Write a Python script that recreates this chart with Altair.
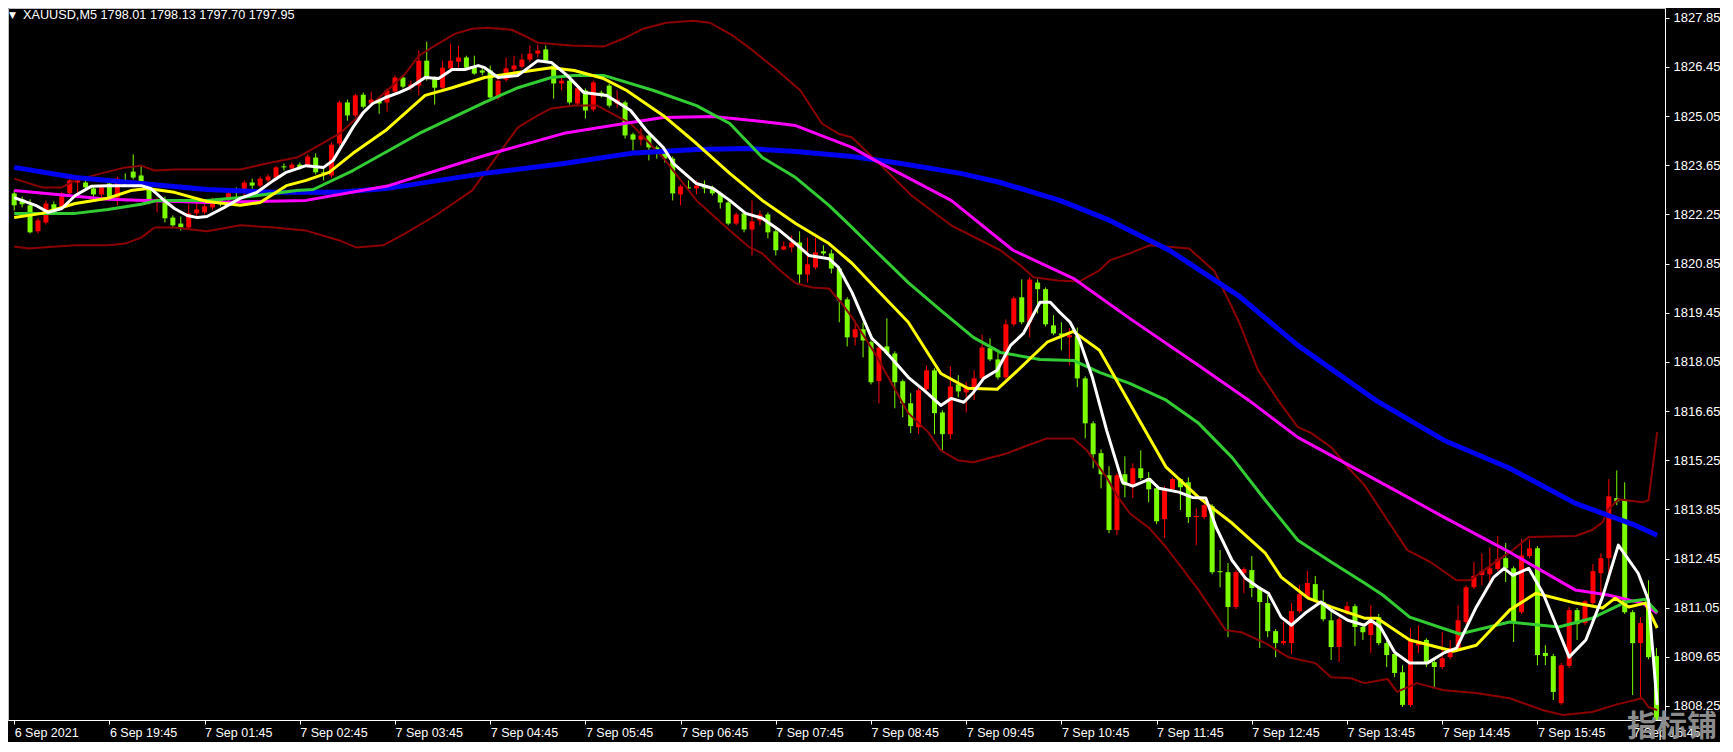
import altair as alt
import pandas as pd

# ---------------- candle data ----------------
open_ = [1822.85,1822.68,1822.51,1821.77,1822.02,1822.54,1822.48,1822.85,1823.16,1823.16,
1822.99,1822.82,1823.13,1822.73,1823.22,1823.47,1823.36,1822.99,1822.62,1822.68,
1822.16,1821.99,1821.88,1822.28,1822.31,1822.45,1822.65,1822.68,1822.93,1822.96,
1823.16,1823.07,1823.22,1823.30,1823.62,1823.56,1823.67,1823.64,1823.87,1823.45,
1823.36,1824.27,1825.44,1825.07,1825.66,1825.41,1825.52,1825.44,1825.75,1826.15,
1825.86,1825.92,1826.63,1826.12,1825.86,1826.41,1826.60,1826.72,1826.43,1826.35,
1826.35,1825.58,1826.09,1826.38,1826.46,1826.66,1826.83,1826.95,1826.49,1825.98,
1826.06,1825.41,1825.78,1825.24,1825.72,1825.92,1825.41,1825.44,1824.53,1824.38,
1824.50,1824.16,1824.07,1823.84,1822.82,1823.02,1822.99,1823.02,1822.99,1822.85,
1822.59,1821.99,1822.28,1821.82,1822.08,1822.25,1821.77,1821.25,1821.31,1821.45,
1820.54,1820.74,1821.20,1821.14,1820.71,1819.83,1818.75,1818.98,1818.61,1817.50,
1818.49,1818.29,1817.50,1816.87,1816.19,1817.27,1817.81,1816.61,1815.99,1817.41,
1817.18,1817.33,1817.58,1818.44,1818.12,1817.61,1819.12,1819.89,1819.18,1820.31,
1820.12,1819.09,1818.86,1818.75,1818.78,1817.58,1816.30,1815.45,1814.82,1813.26,
1814.85,1814.54,1815.02,1814.74,1814.45,1813.57,1814.42,1814.71,1814.62,1813.63,
1813.63,1813.94,1812.09,1812.06,1811.07,1812.03,1812.12,1811.61,1811.18,1810.38,
1810.04,1810.04,1810.95,1811.35,1811.72,1811.21,1810.69,1809.93,1810.89,1811.09,
1810.50,1810.27,1810.78,1810.04,1809.73,1809.21,1808.28,1809.98,1810.13,1809.50,
1809.36,1809.64,1809.90,1810.64,1811.63,1811.98,1812.00,1812.15,1812.46,1812.17,
1810.92,1812.52,1812.74,1809.76,1809.67,1808.33,1809.39,1810.98,1810.61,1811.18,
1812.03,1812.46,1814.17,1814.11,1810.92,1810.04,1811.04,1809.67]

high = [1822.93,1822.76,1822.68,1822.14,1822.65,1822.62,1822.90,1823.27,1823.27,1823.30,
1823.05,1823.10,1823.19,1823.33,1823.42,1823.96,1823.62,1823.05,1822.73,1822.76,
1822.22,1822.19,1822.54,1822.59,1822.54,1822.73,1822.71,1822.90,1823.02,1823.22,
1823.27,1823.33,1823.39,1823.64,1823.70,1823.73,1823.73,1823.96,1823.99,1823.56,
1824.30,1825.49,1825.52,1825.69,1825.72,1825.75,1825.55,1825.84,1826.21,1826.21,
1826.06,1826.92,1827.17,1826.18,1826.63,1827.12,1827.06,1826.77,1826.77,1826.46,
1826.49,1826.12,1826.72,1826.77,1826.83,1827.06,1827.09,1827.06,1826.55,1826.15,
1826.12,1825.89,1825.84,1826.06,1825.78,1825.98,1825.78,1825.49,1824.58,1824.70,
1824.56,1824.21,1824.13,1823.90,1823.10,1823.22,1823.22,1823.22,1823.07,1822.90,
1822.65,1822.31,1822.34,1822.65,1822.36,1822.31,1821.82,1821.48,1821.65,1821.77,
1821.59,1821.59,1821.37,1821.25,1820.77,1819.89,1819.23,1819.18,1818.66,1818.52,
1819.29,1818.35,1817.55,1817.16,1817.30,1817.95,1817.87,1816.67,1817.92,1817.67,
1817.47,1817.81,1818.83,1818.72,1818.32,1819.26,1819.92,1820.40,1820.46,1820.40,
1820.17,1819.38,1819.18,1819.01,1819.03,1817.64,1816.36,1815.56,1815.08,1814.88,
1815.36,1815.16,1815.53,1814.91,1814.51,1814.51,1814.76,1814.74,1814.76,1813.88,
1814.02,1814.00,1812.69,1812.32,1812.12,1812.20,1812.52,1811.66,1811.41,1810.44,
1810.64,1811.18,1811.69,1812.09,1811.95,1811.55,1810.98,1810.78,1811.21,1811.15,
1810.55,1811.12,1810.87,1810.10,1809.78,1809.41,1810.47,1810.55,1810.18,1809.56,
1810.35,1810.13,1811.12,1811.69,1812.35,1812.60,1812.77,1813.09,1812.89,1812.23,
1813.00,1813.00,1812.80,1809.98,1809.73,1809.47,1811.07,1811.04,1811.26,1812.29,
1812.60,1814.71,1814.96,1814.62,1810.98,1810.78,1811.83,1809.90]

low = [1822.36,1822.45,1821.71,1821.71,1821.96,1822.28,1822.42,1822.79,1822.85,1822.96,
1822.76,1822.73,1822.68,1822.51,1823.05,1823.25,1823.10,1822.54,1822.31,1822.02,
1821.88,1821.79,1821.82,1822.14,1822.25,1822.39,1822.48,1822.62,1822.59,1822.79,
1822.88,1823.02,1823.16,1823.25,1823.50,1823.50,1823.53,1823.59,1823.39,1823.22,
1823.30,1824.21,1824.92,1825.01,1825.27,1825.35,1825.12,1825.18,1825.69,1825.84,
1825.78,1825.64,1826.06,1825.38,1825.81,1826.35,1826.41,1826.38,1826.23,1826.21,
1825.52,1825.52,1826.03,1826.29,1826.41,1826.60,1826.72,1826.58,1825.55,1825.78,
1825.38,1825.35,1824.98,1825.18,1825.58,1825.29,1825.29,1824.41,1824.07,1824.21,
1823.79,1823.84,1823.73,1822.65,1822.51,1822.93,1822.82,1822.85,1822.79,1822.42,
1821.94,1821.94,1821.74,1821.08,1821.94,1821.57,1821.08,1821.23,1821.17,1820.29,
1820.31,1820.68,1821.08,1820.57,1819.18,1818.49,1818.52,1818.18,1817.41,1816.87,
1818.24,1816.73,1816.47,1816.02,1815.99,1817.21,1815.99,1815.53,1815.85,1817.04,
1816.61,1816.96,1817.53,1818.07,1817.55,1817.55,1819.06,1819.12,1818.75,1819.43,
1819.06,1818.81,1818.38,1817.95,1817.33,1815.87,1815.02,1814.45,1813.17,1813.11,
1814.19,1814.17,1814.68,1814.05,1813.43,1813.03,1814.37,1813.83,1813.46,1812.83,
1813.57,1812.00,1811.63,1810.21,1811.01,1811.46,1811.35,1809.90,1810.21,1809.64,
1809.98,1809.73,1810.89,1811.29,1811.21,1810.66,1809.56,1809.50,1810.84,1809.96,
1810.13,1809.76,1809.98,1809.36,1809.07,1808.22,1808.22,1809.76,1809.36,1808.76,
1809.30,1809.58,1809.84,1810.58,1811.58,1811.69,1811.63,1812.09,1811.78,1810.07,
1810.87,1812.46,1809.41,1809.41,1808.42,1808.28,1809.33,1810.13,1810.55,1811.12,
1811.35,1811.78,1813.97,1810.87,1808.56,1808.50,1809.58,1807.79]

close = [1822.51,1822.54,1821.74,1822.08,1822.56,1822.34,1822.85,1823.22,1823.22,1823.02,
1822.82,1823.02,1822.73,1823.27,1823.10,1823.30,1823.16,1822.59,1822.68,1822.14,
1821.94,1821.88,1822.28,1822.39,1822.48,1822.56,1822.54,1822.85,1822.88,1823.16,
1823.07,1823.27,1823.33,1823.59,1823.59,1823.67,1823.59,1823.90,1823.45,1823.42,
1824.24,1825.44,1825.07,1825.64,1825.32,1825.52,1825.41,1825.78,1826.15,1825.89,
1825.95,1826.63,1826.12,1825.86,1826.43,1826.63,1826.72,1826.43,1826.26,1826.29,
1825.58,1826.06,1826.41,1826.49,1826.66,1826.83,1826.92,1826.63,1825.98,1826.06,
1825.44,1825.84,1825.21,1826.01,1825.64,1825.35,1825.52,1824.50,1824.38,1824.50,
1824.16,1824.07,1823.84,1822.85,1823.05,1822.99,1823.07,1822.99,1822.85,1822.59,
1821.99,1822.25,1821.82,1822.05,1822.25,1821.74,1821.23,1821.34,1821.45,1820.54,
1820.83,1821.17,1821.14,1820.71,1819.80,1818.75,1818.98,1818.66,1817.47,1818.46,
1818.29,1817.47,1816.87,1816.22,1817.24,1817.81,1816.59,1815.99,1817.35,1817.21,
1817.35,1817.58,1818.46,1818.12,1817.61,1819.12,1819.86,1819.18,1820.40,1820.12,
1819.12,1818.86,1818.81,1818.81,1817.58,1816.30,1815.42,1814.85,1813.26,1814.82,
1814.54,1815.02,1814.74,1814.42,1813.51,1814.45,1814.71,1814.48,1813.63,1813.66,
1813.97,1812.06,1812.06,1811.07,1812.06,1812.15,1811.61,1811.21,1810.38,1810.04,
1810.10,1810.95,1811.43,1811.75,1811.26,1810.72,1809.93,1810.72,1811.09,1810.50,
1810.35,1810.78,1810.04,1809.70,1809.19,1808.28,1810.10,1810.10,1809.50,1809.36,
1809.61,1809.90,1810.69,1811.63,1811.95,1812.09,1812.17,1812.43,1812.17,1810.61,
1812.54,1812.74,1809.70,1809.67,1808.65,1809.41,1810.98,1810.58,1811.23,1812.09,
1812.46,1814.22,1814.08,1810.92,1810.04,1810.61,1809.64,1807.85]

# ---------------- indicator lines (bar position, price) ----------------
blue_t = [0,7.7,16,24.3,32.7,41,46.8,49.3,59.3,69.3,77.7,86,92.2,98.5,105.6,111.8,119.3,124.3,131.8,138.1,145.6,154.3,161.8,171.8,180.2,188.5,196.8,200.9,204.3,207.1]
blue_p = [1823.59,1823.30,1823.13,1822.96,1822.88,1822.88,1822.99,1823.07,1823.42,1823.70,1823.99,1824.10,1824.13,1824.04,1823.90,1823.70,1823.42,1823.16,1822.65,1822.08,1821.23,1819.94,1818.52,1816.93,1815.82,1815.02,1814.02,1813.68,1813.40,1813.11]

magenta_t = [0,11.8,24.3,36.8,47.2,59.3,69.3,77.7,81.8,88.1,94.3,98.5,105.6,108.5,118.1,125.9,133.5,140.6,149.3,155.6,161.8,173.1,180.2,188.5,196.8,200.9,205.2,207.1]
magenta_p = [1822.93,1822.68,1822.59,1822.65,1823.07,1823.93,1824.56,1824.87,1825.01,1825.04,1824.90,1824.78,1824.16,1823.79,1822.65,1821.23,1820.43,1819.29,1817.95,1816.96,1815.90,1814.51,1813.63,1812.63,1811.55,1811.41,1811.18,1810.89]

green_t = [0,7.7,11.8,16,18.1,24.3,28.5,35.6,37.7,42.7,51,59.3,63.5,67.7,70.6,74.3,80.6,86,90.2,94.3,98.5,102.7,105.6,108.5,112.7,116.8,120.9,124.3,129.3,133.5,136.8,140.6,145.2,149.3,153.5,157.7,161.8,166,170.2,172.5,175.9,182.2,188.5,194.7,198.9,203.1,205.6,207.1]
green_p = [1822.28,1822.28,1822.39,1822.54,1822.65,1822.65,1822.73,1822.93,1822.96,1823.50,1824.55,1825.44,1825.86,1826.15,1826.21,1826.21,1825.78,1825.35,1824.84,1823.87,1823.30,1822.51,1821.88,1821.23,1820.31,1819.52,1818.75,1818.32,1818.12,1818.09,1817.75,1817.44,1816.96,1816.30,1815.33,1814.11,1812.97,1812.35,1811.75,1811.41,1810.78,1810.30,1810.64,1810.50,1810.75,1811.21,1811.29,1810.92]

yellow_t = [0,3.5,7.7,11.8,14.7,16.8,20.2,24.3,28.5,31,34.3,36.8,39.7,42.7,46.8,51.8,55.2,59.3,63.5,67.7,70.6,74.3,77.2,81.8,86,90.2,94.3,98.5,102.7,105.6,108.5,112.7,116.8,120.2,123.9,126.5,130.2,133.5,136.8,140.6,145.2,149.3,153.5,157.7,159.7,163.1,166,170.2,171.8,175.9,181.4,184.3,188.5,191.8,196.8,200.2,201.8,203.5,205.6,207.1]
yellow_p = [1822.16,1822.28,1822.56,1822.71,1822.93,1822.99,1822.88,1822.62,1822.51,1822.59,1823.07,1823.22,1823.45,1823.99,1824.64,1825.64,1825.86,1826.15,1826.29,1826.43,1826.35,1826.12,1825.78,1825.07,1824.27,1823.42,1822.65,1821.99,1821.42,1820.86,1820.17,1819.18,1817.72,1817.30,1817.27,1817.81,1818.61,1818.92,1818.38,1816.87,1815.05,1814.19,1813.46,1812.60,1811.92,1811.32,1811.07,1810.75,1810.75,1810.13,1809.81,1809.98,1810.98,1811.46,1811.18,1811.04,1811.32,1811.07,1811.18,1810.47]

white_t = [0,2.7,4.3,6,7.7,9.7,11.8,16,17.2,18.9,20.2,21.8,23.1,24.3,26.5,28.5,30.6,32.7,34.3,36.8,39,40.2,42.7,44,45.2,46.8,48.5,49.7,51.8,53.5,55.2,56.8,58.5,59.3,61,63.5,66,67.7,69.7,71.8,74.7,77.7,79.7,81.8,83.1,86,88.1,90.2,92.2,94.3,96.5,98.5,100.2,102.7,103.9,105.6,108.1,109.7,112.7,114.7,116.8,118.1,119.7,120.9,122.2,123.9,125.6,127.2,129.3,130.6,131.8,133.1,134.3,135.9,137.7,139.7,141,143.1,144.3,146.8,148.5,150.2,151.5,153.5,155.2,156.8,158.1,159.7,161,162.7,164.7,166,168.1,170.2,171,172.2,174,175.9,178.1,180.2,181.8,184.3,186.5,187.8,188.9,190.9,192.7,196,198.1,200.2,202.2,204.7,206,207.1]
white_p = [1822.73,1822.51,1822.31,1822.42,1822.79,1823.05,1823.07,1823.07,1822.99,1822.65,1822.42,1822.22,1822.16,1822.19,1822.45,1822.71,1822.88,1823.22,1823.45,1823.64,1823.59,1823.79,1824.73,1825.15,1825.41,1825.58,1825.72,1825.84,1826.15,1826.12,1826.38,1826.38,1826.49,1826.43,1826.15,1826.21,1826.63,1826.58,1826.21,1825.72,1825.64,1825.21,1824.64,1824.16,1823.70,1823.13,1822.99,1822.65,1822.28,1822.14,1821.79,1821.42,1821.08,1820.99,1820.74,1820.03,1818.72,1818.38,1817.61,1817.24,1816.81,1817.01,1816.90,1817.18,1817.58,1817.81,1818.52,1818.86,1819.75,1819.75,1819.46,1819.18,1818.66,1817.61,1816.10,1814.62,1814.51,1814.71,1814.45,1814.34,1814.19,1814.17,1813.34,1812.40,1811.89,1811.63,1811.46,1810.78,1810.55,1810.89,1811.21,1810.98,1810.69,1810.55,1810.69,1810.50,1809.78,1809.47,1809.47,1809.76,1809.90,1811.07,1811.92,1812.17,1811.97,1812.17,1811.46,1809.64,1810.13,1811.35,1812.83,1812.03,1811.26,1808.28]

upper_t = [0,3.5,6,7.7,11,14,16,17.7,20.2,28.5,31.8,35.6,36.8,41,45.2,49.3,51,53.5,55.6,57.7,59.7,62.7,64.3,66,70.2,74.3,76.8,79.3,82.2,85.6,87.7,90.6,93.1,96.2,99.1,101.8,103.9,105.6,109.3,113.1,118.1,124.3,126.8,128.5,131.5,134.3,136.8,138.1,140.6,143.1,148.1,151.3,154.3,156.8,159.3,161.8,163.5,166,168.1,170.2,173.1,175.6,178.5,181.8,183.5,186.5,188.9,190.9,196.8,198.9,200.2,200.9,202.2,205.2,206,207.1]
upper_p = [1823.27,1823.02,1823.02,1823.22,1823.42,1823.59,1823.64,1823.50,1823.53,1823.53,1823.70,1823.87,1824.01,1824.55,1825.41,1826.26,1826.77,1827.12,1827.40,1827.54,1827.57,1827.51,1827.34,1827.14,1827.06,1827.03,1827.26,1827.54,1827.71,1827.77,1827.71,1827.34,1826.92,1826.35,1825.78,1824.84,1824.55,1824.44,1823.64,1822.79,1821.94,1821.23,1820.80,1820.46,1820.37,1820.34,1820.66,1820.94,1821.14,1821.37,1821.28,1820.63,1819.23,1817.81,1816.96,1816.19,1816.02,1815.62,1815.05,1814.54,1813.54,1812.69,1812.35,1811.83,1811.83,1812.32,1812.69,1813.06,1813.09,1813.26,1813.48,1813.83,1814.14,1814.05,1814.11,1816.05]

lower_t = [0,1.8,3.5,7.7,11.8,14,16,17.7,20.2,24.3,28.5,32.7,36.8,41,43.1,46.5,49.3,53.1,57.7,63.5,66,67.7,70.6,73.5,77.7,81.8,86,90.2,92.7,94.3,96.5,98.5,100.6,102.7,104.3,105.6,108.5,112.7,115.2,116.8,118.9,120.9,125.2,127.7,130.2,133.5,135.2,137.7,139,140.6,143.1,145.2,149.3,152.7,154.7,157.7,160.6,164,166,168.5,170.2,173.1,174.3,176.8,180.2,184.3,188.5,192.7,195.2,198.9,201.8,205.2,206,207.1]
lower_p = [1821.34,1821.28,1821.31,1821.37,1821.37,1821.42,1821.59,1821.88,1821.88,1821.77,1821.94,1821.88,1821.79,1821.51,1821.31,1821.37,1821.71,1822.22,1822.93,1824.73,1825.07,1825.27,1825.35,1825.35,1824.84,1823.87,1822.65,1821.79,1821.31,1821.14,1820.66,1820.29,1820.17,1820.14,1819.72,1819.32,1818.29,1816.59,1816.05,1815.53,1815.25,1815.19,1815.45,1815.67,1815.87,1815.87,1815.53,1814.76,1814.25,1813.74,1813.31,1812.77,1811.55,1810.41,1810.35,1810.04,1809.64,1809.47,1809.07,1809.04,1808.90,1809.02,1808.65,1808.90,1808.70,1808.62,1808.47,1808.13,1807.99,1808.08,1808.28,1808.47,1808.22,1808.13]

# ---------------- axis labels ----------------
price_ticks = [1808.25, 1809.65, 1811.05, 1812.45, 1813.85, 1815.25, 1816.65, 1818.05,
               1819.45, 1820.85, 1822.25, 1823.65, 1825.05, 1826.45, 1827.85]
time_labels = ["6 Sep 2021", "6 Sep 19:45", "7 Sep 01:45", "7 Sep 02:45", "7 Sep 03:45",
               "7 Sep 04:45", "7 Sep 05:45", "7 Sep 06:45", "7 Sep 07:45", "7 Sep 08:45",
               "7 Sep 09:45", "7 Sep 10:45", "7 Sep 11:45", "7 Sep 12:45", "7 Sep 13:45",
               "7 Sep 14:45", "7 Sep 15:45", "7 Sep 16:45"]
time_positions = [12 * k for k in range(len(time_labels))]
header = "XAUUSD,M5  1798.01 1798.13 1797.70 1797.95"

# ---------------- build ----------------
bars = pd.DataFrame({"t": list(range(len(open_))), "open": open_, "high": high,
                     "low": low, "close": close})
bars["dir"] = ["up" if c >= o else "down" for o, c in zip(open_, close)]

W, H = 1657, 712
FONT = "Liberation Sans"
xs = alt.Scale(domain=[-0.15, 207.45], nice=False, zero=False)
ys = alt.Scale(domain=[1807.85, 1828.13], nice=False, zero=False)

label_arr = "[" + ",".join("'" + s + "'" for s in time_labels) + "]"
x_axis = alt.Axis(values=time_positions, labelExpr=label_arr + "[round(datum.value/12)]",
                  title=None, grid=False, orient="bottom", labelAlign="left",
                  labelBaseline="top", labelPadding=2, tickSize=4, labelFontSize=12.5,
                  labelColor="#ffffff", tickColor="#ffffff", domainColor="#ffffff",
                  labelFont=FONT, labelOverlap=False, labelFlush=False)
y_axis = alt.Axis(values=price_ticks, format=".2f", title=None, grid=False,
                  orient="right", tickSize=4, labelPadding=4, labelFontSize=13,
                  labelColor="#ffffff", tickColor="#ffffff", domainColor="#ffffff",
                  labelFont=FONT)

def X(f):
    return alt.X(f, type="quantitative", scale=xs, axis=x_axis)

def Y(f):
    return alt.Y(f, type="quantitative", scale=ys, axis=y_axis)

cscale = alt.Scale(domain=["up", "down"], range=["#ff0000", "#7cfc00"])

wicks = alt.Chart(bars).mark_rule(strokeWidth=1, clip=True).encode(
    x=X("t"), y=Y("low"), y2="high",
    color=alt.Color("dir:N", scale=cscale, legend=None))
bodies = alt.Chart(bars).mark_bar(size=5, clip=True).encode(
    x=X("t"), y=Y("open"), y2="close",
    color=alt.Color("dir:N", scale=cscale, legend=None))

def line(ts, ps, color, width):
    d = pd.DataFrame({"t": ts, "p": ps})
    return alt.Chart(d).mark_line(color=color, strokeWidth=width, clip=True,
                                  strokeJoin="round").encode(x=X("t"), y=Y("p"))

layers = [wicks, bodies,
          line(lower_t, lower_p, "#8b0000", 2),
          line(upper_t, upper_p, "#8b0000", 2),
          line(blue_t, blue_p, "#0000f0", 5),
          line(magenta_t, magenta_p, "#ff00ff", 3),
          line(green_t, green_p, "#32cd32", 3),
          line(yellow_t, yellow_p, "#ffff00", 3),
          line(white_t, white_p, "#ffffff", 3)]

tri = alt.Chart(pd.DataFrame({"s": ["▼"]})).mark_text(
    color="#ffffff", fontSize=9, align="left", baseline="middle", font="DejaVu Sans").encode(
    x=alt.value(1), y=alt.value(7), text="s:N")
head = alt.Chart(pd.DataFrame({"s": [header]})).mark_text(
    color="#ffffff", fontSize=12.7, align="left", baseline="middle", font=FONT).encode(
    x=alt.value(15), y=alt.value(7), text="s:N")
wm = alt.Chart(pd.DataFrame({"s": ["指标铺"]})).mark_text(
    color="#8c8c8c", fontSize=30, fontWeight="bold", align="center", baseline="alphabetic",
    font="Noto Sans CJK SC").encode(
    x=alt.value(1664), y=alt.value(728), text="s:N")

chart = alt.layer(*layers, tri, head, wm).properties(
    width=W, height=H, background="#000000", padding=0
).configure_view(stroke="#c0c0c0", strokeWidth=1, fill="#000000")

chart.save("out.html", embed_options={"renderer": "svg", "actions": False})
